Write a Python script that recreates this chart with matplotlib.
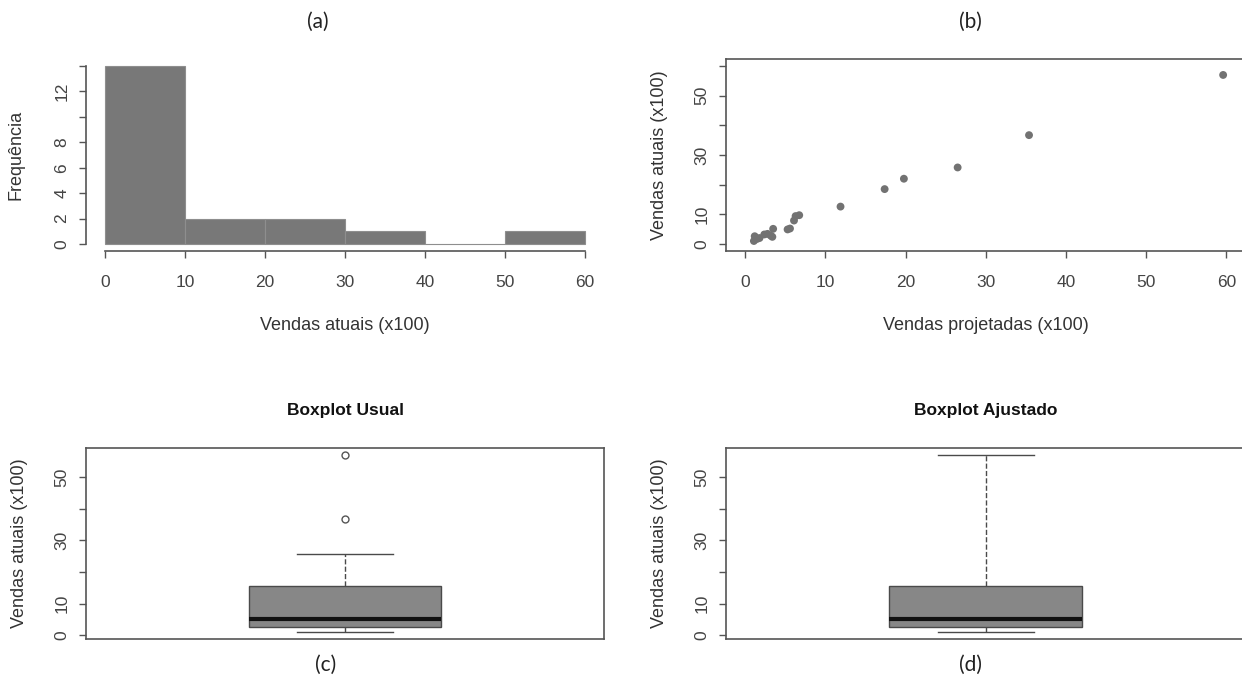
import numpy as np
import matplotlib.pyplot as plt

projetadas = [1.1, 1.2, 1.5, 1.8, 2.4, 2.8, 3.2, 3.4, 3.5, 5.3,
              5.6, 6.1, 6.3, 6.75, 11.9, 17.4, 19.8, 26.5, 35.4, 59.6]
atuais = [1.0, 2.6, 1.7, 2.0, 3.2, 3.4, 2.8, 2.4, 5.1, 4.9,
          5.2, 7.9, 9.4, 9.7, 12.6, 18.5, 22.0, 25.8, 36.7, 57.0]
classes = [0, 10, 20, 30, 40, 50, 60]

hist_yticks = [0, 2, 4, 6, 8, 10, 12, 14]
hist_ylabels = ['0', '2', '4', '6', '8', '', '12', '']
vend_ticks = [0, 10, 20, 30, 40, 50, 60]
vend_labels = ['0', '10', '', '30', '', '50', '']

plt.rcParams['font.family'] = ['Liberation Sans', 'DejaVu Sans']
TXT = '#333333'
AX = '#555555'
GRAY = '#787878'


def r_axes(ax, box=True):
    for s in ax.spines.values():
        s.set_color(AX)
        s.set_linewidth(1.2)
    if not box:
        ax.spines['top'].set_visible(False)
        ax.spines['right'].set_visible(False)
    ax.tick_params(direction='out', length=5, width=1, color=AX,
                   labelsize=12.5, labelcolor='#444444')
    ax.tick_params(axis='x', pad=12)
    ax.tick_params(axis='y', pad=7)
    for lab in ax.get_yticklabels():
        lab.set_rotation(90)
        lab.set_va('center')


def hinges(v):
    v = np.sort(np.asarray(v))
    n = len(v)
    return np.median(v[:(n + 1) // 2]), np.median(v), np.median(v[n // 2:])


fig = plt.figure(figsize=(12.42, 6.83), dpi=100)

# (a) histograma
ax1 = fig.add_axes([0.0691, 0.6324, 0.4174, 0.2813])
ax1.hist(atuais, bins=classes, color=GRAY, edgecolor='#8e8e8e', linewidth=0.8)
ax1.set_xlim(-2.4, 62.4)
ax1.set_ylim(-0.56, 14.56)
ax1.set_xticks(classes)
ax1.set_yticks(hist_yticks)
ax1.set_yticklabels(hist_ylabels)
ax1.spines['left'].set_bounds(0, 14)
ax1.spines['bottom'].set_bounds(0, 60)
r_axes(ax1, box=False)
ax1.set_xlabel('Vendas atuais (x100)', fontsize=13, color=TXT, labelpad=20)
ax1.set_ylabel('Frequência', fontsize=13, color=TXT, labelpad=21)

# (b) dispersão
ax2 = fig.add_axes([0.5844, 0.6324, 0.4185, 0.2813])
ax2.scatter(projetadas, atuais, s=32, color='#727272', edgecolors='none')
ax2.set_xlim(-2.4, 62.4)
ax2.set_ylim(-2.4, 62.4)
ax2.set_xticks(vend_ticks)
ax2.set_yticks(vend_ticks)
ax2.set_yticklabels(vend_labels)
r_axes(ax2)
ax2.set_xlabel('Vendas projetadas (x100)', fontsize=13, color=TXT, labelpad=20)
ax2.set_ylabel('Vendas atuais (x100)', fontsize=13, color=TXT, labelpad=19)

# (c) e (d) boxplots
q1, med, q3 = hinges(atuais)
iqr = q3 - q1
dados = np.asarray(atuais)
dentro = dados[(dados >= q1 - 1.5 * iqr) & (dados <= q3 + 1.5 * iqr)]
usual = dict(med=med, q1=q1, q3=q3, whislo=dentro.min(), whishi=dentro.max(),
             fliers=dados[(dados < q1 - 1.5 * iqr) | (dados > q3 + 1.5 * iqr)])
ajustado = dict(med=med, q1=q1, q3=q3, whislo=dados.min(), whishi=dados.max(),
                fliers=[])

lo = dados.min() - 0.04 * (dados.max() - dados.min())
hi = dados.max() + 0.04 * (dados.max() - dados.min())

for pos, stats, titulo in [(0.0691, usual, 'Boxplot Usual'),
                           (0.5844, ajustado, 'Boxplot Ajustado')]:
    w = 0.4174 if pos < 0.5 else 0.4185
    ax = fig.add_axes([pos, 0.0644, w, 0.2797])
    ax.bxp([stats], positions=[1], widths=0.4, patch_artist=True,
           boxprops=dict(facecolor='#878787', edgecolor='#4a4a4a', linewidth=1),
           medianprops=dict(color='#111111', linewidth=3),
           whiskerprops=dict(color='#4a4a4a', linestyle='--', linewidth=1),
           capprops=dict(color='#4a4a4a', linewidth=1),
           capwidths=0.2,
           flierprops=dict(marker='o', markersize=5, markerfacecolor='none',
                           markeredgecolor='#555555', markeredgewidth=1))
    ax.set_xlim(0.46, 1.54)
    ax.set_ylim(lo, hi)
    ax.set_xticks([])
    ax.set_yticks(vend_ticks[:6])
    ax.set_yticklabels(vend_labels[:6])
    r_axes(ax)
    ax.set_ylabel('Vendas atuais (x100)', fontsize=13, color=TXT, labelpad=19)
    ax.set_title(titulo, fontsize=12.5, fontweight='bold', color='#111111', pad=24)

# rótulos dos painéis
for x, y, t in [(0.256, 0.968, '(a)'), (0.781, 0.968, '(b)'),
                (0.262, 0.026, '(c)'), (0.781, 0.026, '(d)')]:
    fig.text(x, y, t, fontsize=15, ha='center', va='center',
             family=['Lato', 'DejaVu Sans'], color='#222222')

fig.savefig('out.png', dpi=100)
